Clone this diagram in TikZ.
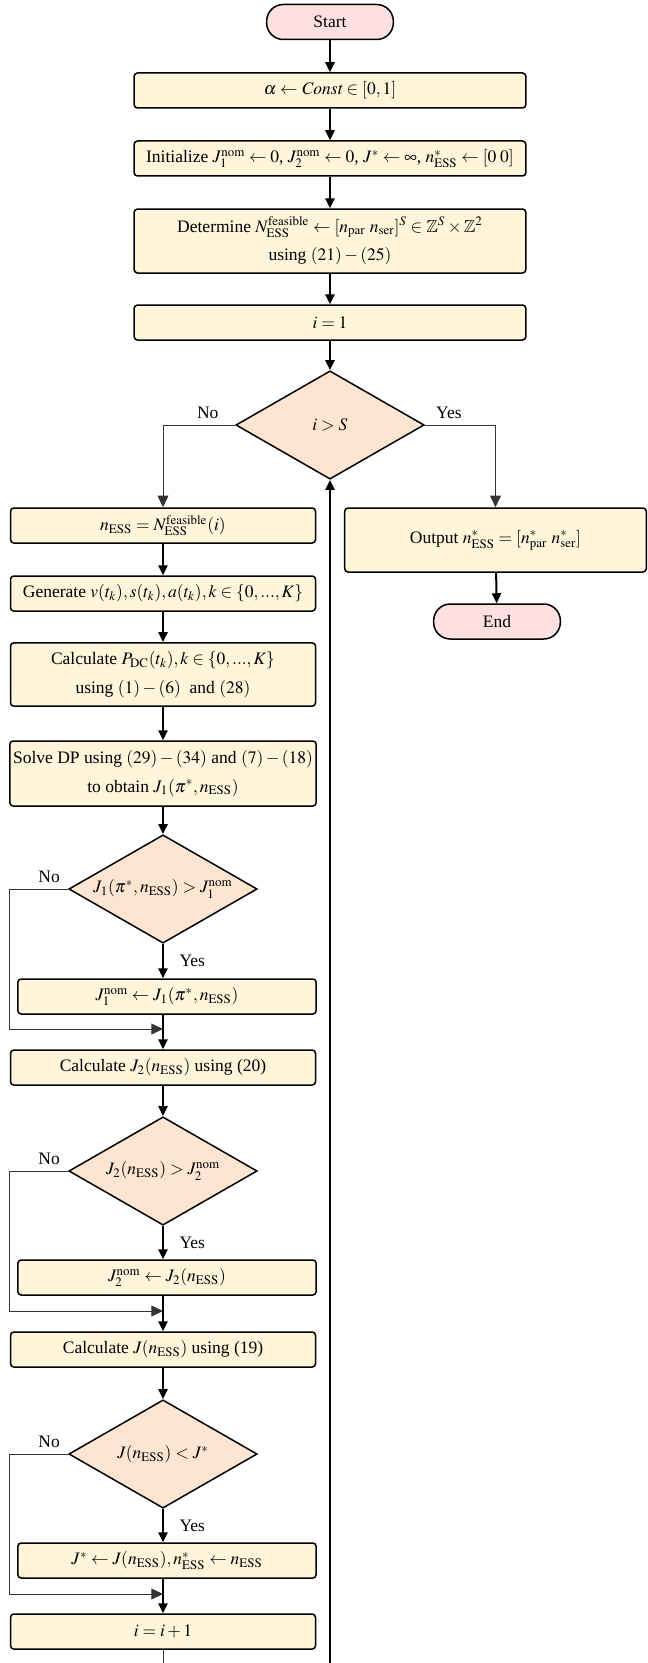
\documentclass[tikz,border=0pt]{standalone}
\usepackage{mathptmx}
\usepackage{amssymb}
\usepackage[no-math]{fontspec}
\setmainfont{Liberation Serif}
\usetikzlibrary{shapes.geometric}
\usetikzlibrary{arrows.meta}

\definecolor{boxfill}{HTML}{FFF5DA}
\definecolor{termfill}{HTML}{FFE0E0}
\definecolor{decfill}{HTML}{FDE5D2}

\tikzset{
  procbox/.style={draw, line width=0.9pt, rounded corners=2pt, fill=boxfill, minimum height=21pt, inner sep=2pt, align=center},
  mainbox/.style={procbox, minimum width=235pt},
  sidebox/.style={procbox, minimum width=183pt},
  nombox/.style={procbox, minimum width=179pt},
  termbox/.style={draw, line width=0.9pt, rounded corners=10pt, fill=termfill, minimum width=76pt, minimum height=21pt},
  decbox/.style={diamond, draw, line width=0.9pt, fill=decfill, aspect=1.74, inner sep=0pt, minimum width=113pt, minimum height=65pt},
  flow/.style={line width=1.2pt, -{Triangle[length=6pt,width=5.5pt]}},
  branch/.style={line width=0.6pt, draw=black!80, -{Triangle[length=7pt,width=6.5pt]}},
}

\begin{document}
\begin{tikzpicture}[x=0.6pt, y=-0.6pt, font=\fontsize{10.5}{17}\selectfont]
        \useasboundingbox (0,0) rectangle (648,1663);
        \clip (0,0) rectangle (648,1663);
        % main column
        \node[termbox] (start) at (330,22) {Start};
        \node[mainbox] (alpha) at (330,90.5) {$\alpha \leftarrow \mathit{Const} \in [0,1]$};
        \node[mainbox] (init) at (330,158.5) {Initialize $J_1^{\mathrm{nom}} \leftarrow 0$, $J_2^{\mathrm{nom}} \leftarrow 0$, $J^{*} \leftarrow \infty$, $n_{\mathrm{ESS}}^{*} \leftarrow [0\;0]$};
        \node[mainbox, minimum height=38.4pt] (feas) at (330,241) {Determine $N_{\mathrm{ESS}}^{\mathrm{feasible}} \leftarrow [n_{\mathrm{par}}\ n_{\mathrm{ser}}]^{S} \in \mathbb{Z}^{S} \times \mathbb{Z}^{2}$\\ using $(21) - (25)$};
        \node[mainbox] (first) at (330,322.5) {$i = 1$};
        \node[decbox] (cond) at (330,425) {$i > S$};
        % loop body
        \node[sidebox] (ness) at (163,525.5) {$n_{\mathrm{ESS}} = N_{\mathrm{ESS}}^{\mathrm{feasible}}(i)$};
        \node[sidebox] (gen) at (163,593.5) {Generate $v(t_k), s(t_k), a(t_k), k \in \{0,...,K\}$};
        \node[sidebox, minimum height=38pt] (pdc) at (163,674.5) {Calculate $P_{\mathrm{DC}}(t_k), k \in \{0,...,K\}$\\ using $(1) - (6)$ \ and $(28)$};
        \node[sidebox, minimum height=39pt] (dp) at (163,773.5) {Solve DP using $(29) - (34)$ and $(7) - (18)$\\ to obtain $J_1(\pi^{*}, n_{\mathrm{ESS}})$};
        \node[decbox] (dJa) at (163,889) {$J_1(\pi^{*}, n_{\mathrm{ESS}}) > J_1^{\mathrm{nom}}$};
        \node[nombox] (noma) at (167,996.5) {$J_1^{\mathrm{nom}} \leftarrow J_1(\pi^{*}, n_{\mathrm{ESS}})$};
        \node[sidebox] (calcb) at (163,1067.5) {Calculate $J_2(n_{\mathrm{ESS}})$ using (20)};
        \node[decbox] (dJb) at (163,1171) {$J_2(n_{\mathrm{ESS}}) > J_2^{\mathrm{nom}}$};
        \node[nombox] (nomb) at (167,1277.5) {$J_2^{\mathrm{nom}} \leftarrow J_2(n_{\mathrm{ESS}})$};
        \node[sidebox] (calcj) at (163,1349.5) {Calculate $J(n_{\mathrm{ESS}})$ using (19)};
        \node[decbox] (dJ) at (163,1454) {$J(n_{\mathrm{ESS}}) < J^{*}$};
        \node[nombox] (best) at (167,1560.5) {$J^{*} \leftarrow J(n_{\mathrm{ESS}}), n_{\mathrm{ESS}}^{*} \leftarrow n_{\mathrm{ESS}}$};
        \node[sidebox] (next) at (163,1631.5) {$i = i + 1$};
        % exit
        \node[procbox, minimum width=181pt, minimum height=38.4pt] (out) at (495.5,540) {Output $n_{\mathrm{ESS}}^{*} = [n_{\mathrm{par}}^{*}\ n_{\mathrm{ser}}^{*}]$};
        \node[termbox] (stop) at (497,621.5) {End};
        % helper points
        \coordinate (rail) at (9,0);
        \coordinate (bot) at (0,1663);
        \coordinate (ma) at (163,1029);
        \coordinate (mb) at (163,1311);
        \coordinate (mc) at (163,1594);
        % arrows
        \draw[flow] (start) -- (alpha);
        \draw[flow] (alpha) -- (init);
        \draw[flow] (init) -- (feas);
        \draw[flow] (feas) -- (first);
        \draw[flow] (first) -- (cond);
        \draw[branch] (cond.west) -| node[above, pos=0.19] {No} (ness.north);
        \draw[branch] (cond.east) -| node[above, pos=0.17] {Yes} (out.north);
        \draw[flow] (out) -- (stop);
        \draw[flow] (ness) -- (gen);
        \draw[flow] (gen) -- (pdc);
        \draw[flow] (pdc) -- (dp);
        \draw[flow] (dp) -- (dJa);
        \draw[flow] (dJa.south) -- node[right=6pt] {Yes} (dJa.south |- noma.north);
        \draw[flow] (noma.south -| dJa) -- (calcb);
        \draw[branch] (dJa.west) -- node[above, pos=0.32] {No} (dJa.west -| rail) |- (ma);
        \draw[flow] (calcb) -- (dJb);
        \draw[flow] (dJb.south) -- node[right=6pt] {Yes} (dJb.south |- nomb.north);
        \draw[flow] (nomb.south -| dJb) -- (calcj);
        \draw[branch] (dJb.west) -- node[above, pos=0.32] {No} (dJb.west -| rail) |- (mb);
        \draw[flow] (calcj) -- (dJ);
        \draw[flow] (dJ.south) -- node[right=6pt] {Yes} (dJ.south |- best.north);
        \draw[flow] (best.south -| dJ) -- (next);
        \draw[branch] (dJ.west) -- node[above, pos=0.32] {No} (dJ.west -| rail) |- (mc);
        % back to the test
        \draw[line width=0.6pt, black!80] (next.south) -- (next.south |- bot);
        \draw[flow] (cond.south |- bot) -- (cond.south);
\end{tikzpicture}
\end{document}
